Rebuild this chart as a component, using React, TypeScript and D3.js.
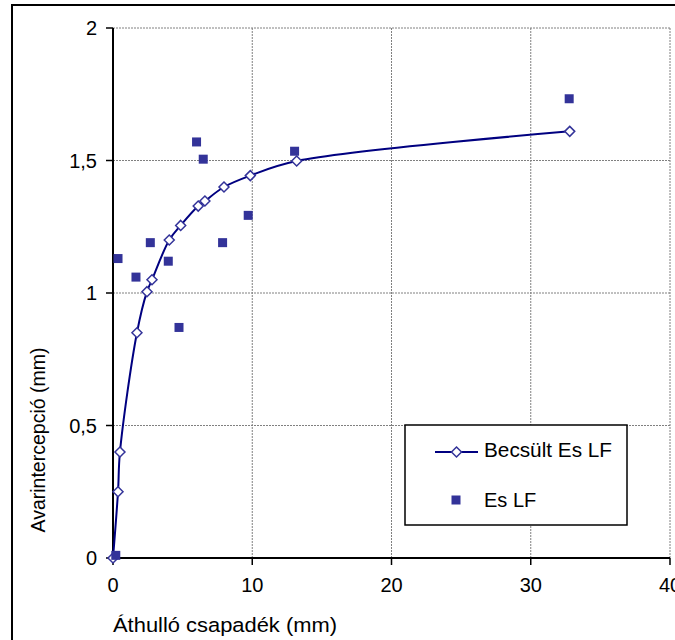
import React from "react";
import * as d3 from "d3";

const estX = [0, 0.36, 0.5, 1.72, 2.44, 2.8, 4.04, 4.86, 6.12, 6.6, 7.97, 9.86, 13.19, 32.8];
const estY = [0, 0.25, 0.4, 0.85, 1.005, 1.05, 1.2, 1.255, 1.328, 1.347, 1.4, 1.443, 1.498, 1.61];

const obsX = [0.2, 0.36, 1.65, 2.68, 3.97, 4.74, 6.0, 6.48, 7.87, 9.71, 13.04, 32.76];
const obsY = [0.01, 1.13, 1.06, 1.19, 1.12, 0.87, 1.57, 1.505, 1.19, 1.293, 1.535, 1.733];

const xTicks = [0, 10, 20, 30, 40];
const yTicks = [0, 0.5, 1, 1.5, 2];
const yTickLabels = ["0", "0,5", "1", "1,5", "2"];

const estName = "Becsült Es LF";
const obsName = "Es LF";
const xTitle = "Áthulló csapadék (mm)";
const yTitle = "Avarintercepció (mm)";

const W = 675;
const H = 640;
const L = 113, R = 670, T = 28, B = 558;
const lineColor = "#000080";
const markColor = "#333399";
const font = "'Liberation Sans', Arial, sans-serif";

export default function App() {
  const x = d3.scaleLinear().domain([0, 40]).range([L, R]);
  const y = d3.scaleLinear().domain([0, 2]).range([B, T]);
  const est = estX.map((v, i) => [v, estY[i]] as [number, number]);
  const obs = obsX.map((v, i) => [v, obsY[i]] as [number, number]);
  const line = d3
    .line<[number, number]>()
    .x((d) => x(d[0]))
    .y((d) => y(d[1]))
    .curve(d3.curveCatmullRom.alpha(0.5));
  const diamond = (cx: number, cy: number, r = 5) =>
    `M${cx},${cy - r}L${cx + r},${cy}L${cx},${cy + r}L${cx - r},${cy}Z`;
  const sq = 9;

  return (
    <svg
      width={W}
      height={H}
      style={{ position: "absolute", left: 0, top: 0, background: "#fff" }}
      fontFamily={font}
    >
      <rect x={0} y={0} width={W} height={H} fill="#fff" />
      <rect x={12} y={5} width={W + 10} height={H + 10} fill="none" stroke="#000" strokeWidth={2} />
      {yTicks.filter((t) => t > 0).map((t) => (
        <line key={"gy" + t} x1={L} x2={R} y1={y(t)} y2={y(t)} stroke="#808080" strokeWidth={1} strokeDasharray="2,1" />
      ))}
      {xTicks.filter((t) => t > 0).map((t) => (
        <line key={"gx" + t} x1={x(t)} x2={x(t)} y1={T} y2={B} stroke="#808080" strokeWidth={1} strokeDasharray="2,1" />
      ))}
      <line x1={L} x2={L} y1={T} y2={B} stroke="#000" strokeWidth={2} />
      <line x1={L} x2={R} y1={B} y2={B} stroke="#000" strokeWidth={2} />
      {yTicks.map((t, i) => (
        <g key={"ty" + t}>
          <line x1={L - 7} x2={L} y1={y(t)} y2={y(t)} stroke="#000" strokeWidth={1.5} />
          <text x={97} y={y(t) + 7} textAnchor="end" fontSize={20} fill="#000">
            {yTickLabels[i]}
          </text>
        </g>
      ))}
      {xTicks.map((t) => (
        <g key={"tx" + t}>
          <line x1={x(t)} x2={x(t)} y1={B} y2={B + 7} stroke="#000" strokeWidth={1.5} />
          <text x={x(t)} y={592} textAnchor="middle" fontSize={20} fill="#000">
            {t}
          </text>
        </g>
      ))}
      <text x={L} y={632} fontSize={20.5} fill="#000" textLength={224} lengthAdjust="spacingAndGlyphs">
        {xTitle}
      </text>
      <text transform={`translate(45,440) rotate(-90)`} textAnchor="middle" fontSize={19.5} fill="#000">
        {yTitle}
      </text>
      <path d={line(est) || ""} fill="none" stroke={lineColor} strokeWidth={2} />
      {est.map((d, i) => (
        <path key={"d" + i} d={diamond(x(d[0]), y(d[1]))} fill="#fff" stroke={markColor} strokeWidth={1.5} />
      ))}
      {obs.map((d, i) => (
        <rect key={"s" + i} x={x(d[0]) - sq / 2} y={y(d[1]) - sq / 2} width={sq} height={sq} fill={markColor} />
      ))}
      <rect x={405} y={425} width={222} height={100} fill="#fff" stroke="#000" strokeWidth={1.5} />
      <line x1={435} x2={478} y1={452} y2={452} stroke={lineColor} strokeWidth={2} />
      <path d={diamond(456.5, 452)} fill="#fff" stroke={markColor} strokeWidth={1.5} />
      <text x={484} y={457} fontSize={20} fill="#000" textLength={128} lengthAdjust="spacingAndGlyphs">
        {estName}
      </text>
      <rect x={456 - sq / 2} y={500 - sq / 2} width={sq} height={sq} fill={markColor} />
      <text x={484} y={507} fontSize={20} fill="#000">
        {obsName}
      </text>
    </svg>
  );
}
